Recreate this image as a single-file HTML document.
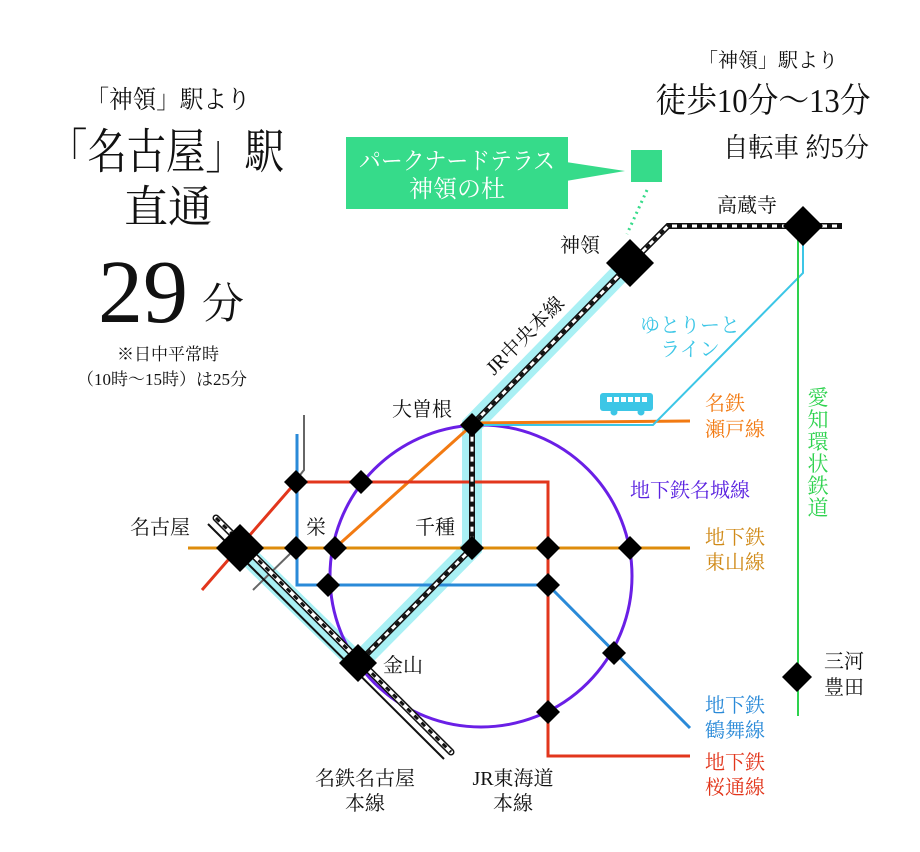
<!DOCTYPE html>
<html><head><meta charset="utf-8"><style>
html,body{margin:0;padding:0;background:#fff}
svg{display:block}
text{font-family:"Liberation Serif","Noto Serif CJK SC",serif}
</style></head><body>
<svg width="920" height="852" viewBox="0 0 920 852" xmlns="http://www.w3.org/2000/svg">
<!-- left headline -->
<g text-anchor="middle" fill="#111">
<text x="168" y="108" font-size="25" textLength="165" lengthAdjust="spacingAndGlyphs">「神領」駅より</text>
<text x="166" y="168" font-size="48" textLength="236" lengthAdjust="spacingAndGlyphs">「名古屋」駅</text>
<text x="168" y="222" font-size="44">直通</text>
<text x="143" y="322" font-size="90">29</text>
<text x="223" y="318" font-size="42">分</text>
<text x="168" y="360" font-size="17">※日中平常時</text>
<text x="162" y="385" font-size="17">（10時～15時）は25分</text>
</g>
<!-- right headline -->
<g text-anchor="middle" fill="#111">
<text x="768" y="67" font-size="20">「神領」駅より</text>
<text x="763" y="112" font-size="34" textLength="215" lengthAdjust="spacingAndGlyphs">徒歩10分～13分</text>
<text x="796" y="157" font-size="27" textLength="146" lengthAdjust="spacingAndGlyphs">自転車 約5分</text>
</g>
<!-- callout -->
<rect x="346" y="137" width="222" height="72" fill="#36db8a"/>
<polygon points="566,162 566,181 625,171" fill="#36db8a"/>
<rect x="631" y="150" width="31" height="32" fill="#36db8a"/>
<line x1="647" y1="190" x2="627" y2="234" stroke="#36db8a" stroke-width="3" stroke-dasharray="2,4"/>
<g text-anchor="middle" fill="#fff" font-size="24">
<text x="457" y="169" textLength="196" lengthAdjust="spacingAndGlyphs">パークナードテラス</text>
<text x="457" y="197">神領の杜</text>
</g>
<!-- cyan highlight -->
<polyline points="630,263 472,425 472,548 358,663" fill="none" stroke="#a9f0f4" stroke-width="20" stroke-linejoin="miter"/>
<line x1="245" y1="553" x2="363" y2="668" stroke="#a9f0f4" stroke-width="20"/>
<!-- metro circle -->
<circle cx="481" cy="576" r="151" fill="none" stroke="#6a1fe6" stroke-width="3"/>
<!-- lines -->
<line x1="188" y1="548" x2="690" y2="548" stroke="#de8c0c" stroke-width="3"/>
<polyline points="472,423 690,421" fill="none" stroke="#f27a12" stroke-width="3"/>
<line x1="472" y1="425" x2="335" y2="548" stroke="#f27a12" stroke-width="3"/>
<polyline points="202,590 296,482 548,482 548,756 690,756" fill="none" stroke="#e2361c" stroke-width="3"/>
<polyline points="297,434 297,585 548,585 690,728" fill="none" stroke="#2a8ad8" stroke-width="3"/>
<polyline points="304,415 304,470 296,480" fill="none" stroke="#666" stroke-width="2"/>
<line x1="253" y1="590" x2="296" y2="548" stroke="#666" stroke-width="2"/>
<polyline points="472,425 653,425 803,273 803,243" fill="none" stroke="#3cc6e6" stroke-width="2"/>
<line x1="798" y1="240" x2="798" y2="716" stroke="#2ed24e" stroke-width="2"/>
<!-- railway JR chuo -->
<g fill="none">
<polyline points="842,226 668,226 630,264 472,425 472,548 358,663" stroke="#111" stroke-width="6"/>
<polyline points="842,226 668,226 630,264 472,425 472,548 358,663" stroke="#fff" stroke-width="3"/>
<polyline points="842,226 668,226 630,264 472,425 472,548 358,663" stroke="#111" stroke-width="3" stroke-dasharray="5,5"/>
<!-- meitetsu / tokaido -->
<line x1="208" y1="524" x2="444" y2="759" stroke="#111" stroke-width="2"/>
<line x1="216" y1="518" x2="451" y2="752" stroke="#111" stroke-width="7" stroke-linecap="round"/>
<line x1="216" y1="518" x2="451" y2="752" stroke="#fff" stroke-width="4" stroke-linecap="round"/>
<line x1="216" y1="518" x2="451" y2="752" stroke="#111" stroke-width="3" stroke-dasharray="5,5"/>
</g>
<!-- bus -->
<g fill="#3cc6e6">
<rect x="600" y="393" width="53" height="18" rx="3"/>
<circle cx="614" cy="412" r="3.5"/><circle cx="641" cy="412" r="3.5"/>
</g>
<g fill="#fff"><rect x="607" y="397" width="5" height="5"/><rect x="614" y="397" width="5" height="5"/><rect x="621" y="397" width="5" height="5"/><rect x="628" y="397" width="5" height="5"/><rect x="635" y="397" width="5" height="5"/><rect x="642" y="397" width="5" height="5"/></g>
<!-- stations -->
<g fill="#000">
<polygon points="630,239 654,263 630,287 606,263"/>
<polygon points="803,206 823,226 803,246 783,226"/>
<polygon points="240,524 264,548 240,572 216,548"/>
<polygon points="358,644 377,663 358,682 339,663"/>
<polygon points="797,662 812,677 797,692 782,677"/>
<polygon points="472,413 484,425 472,437 460,425"/>
<polygon points="472,536 484,548 472,560 460,548"/>
<polygon points="296,536 308,548 296,560 284,548"/>
<polygon points="335,536 347,548 335,560 323,548"/>
<polygon points="548,536 560,548 548,560 536,548"/>
<polygon points="630,536 642,548 630,560 618,548"/>
<polygon points="296,470 308,482 296,494 284,482"/>
<polygon points="361,470 373,482 361,494 349,482"/>
<polygon points="328,573 340,585 328,597 316,585"/>
<polygon points="548,573 560,585 548,597 536,585"/>
<polygon points="614,641 626,653 614,665 602,653"/>
<polygon points="548,700 560,712 548,724 536,712"/>
</g>
<!-- station labels -->
<g fill="#111" font-size="20">
<text x="560" y="252">神領</text>
<text x="717" y="212">高蔵寺</text>
<text x="392" y="416">大曽根</text>
<text x="415" y="534">千種</text>
<text x="306" y="534">栄</text>
<text x="130" y="534">名古屋</text>
<text x="383" y="672">金山</text>
<text x="824" y="668">三河</text>
<text x="824" y="694">豊田</text>
<text x="365" y="785" text-anchor="middle">名鉄名古屋</text>
<text x="365" y="810" text-anchor="middle">本線</text>
<text x="513" y="785" text-anchor="middle">JR東海道</text>
<text x="513" y="810" text-anchor="middle">本線</text>
<text x="0" y="0" transform="translate(494,376) rotate(-45)">JR中央本線</text>
</g>
<g font-size="20">
<text x="705" y="410" fill="#f27a12">名鉄</text>
<text x="705" y="436" fill="#f27a12">瀬戸線</text>
<text x="630" y="497" fill="#5a22e0">地下鉄名城線</text>
<text x="705" y="544" fill="#d08a18">地下鉄</text>
<text x="705" y="569" fill="#d08a18">東山線</text>
<text x="705" y="712" fill="#2a8ad8">地下鉄</text>
<text x="705" y="737" fill="#2a8ad8">鶴舞線</text>
<text x="705" y="769" fill="#e2361c">地下鉄</text>
<text x="705" y="794" fill="#e2361c">桜通線</text>
<text x="690" y="332" fill="#3cc6e6" text-anchor="middle">ゆとりーと</text>
<text x="690" y="356" fill="#3cc6e6" text-anchor="middle">ライン</text>
</g>
<g font-size="21" fill="#2ed24e" text-anchor="middle">
<text x="818" y="405">愛</text><text x="818" y="427">知</text><text x="818" y="449">環</text><text x="818" y="471">状</text><text x="818" y="493">鉄</text><text x="818" y="515">道</text>
</g>
</svg>
</body></html>
